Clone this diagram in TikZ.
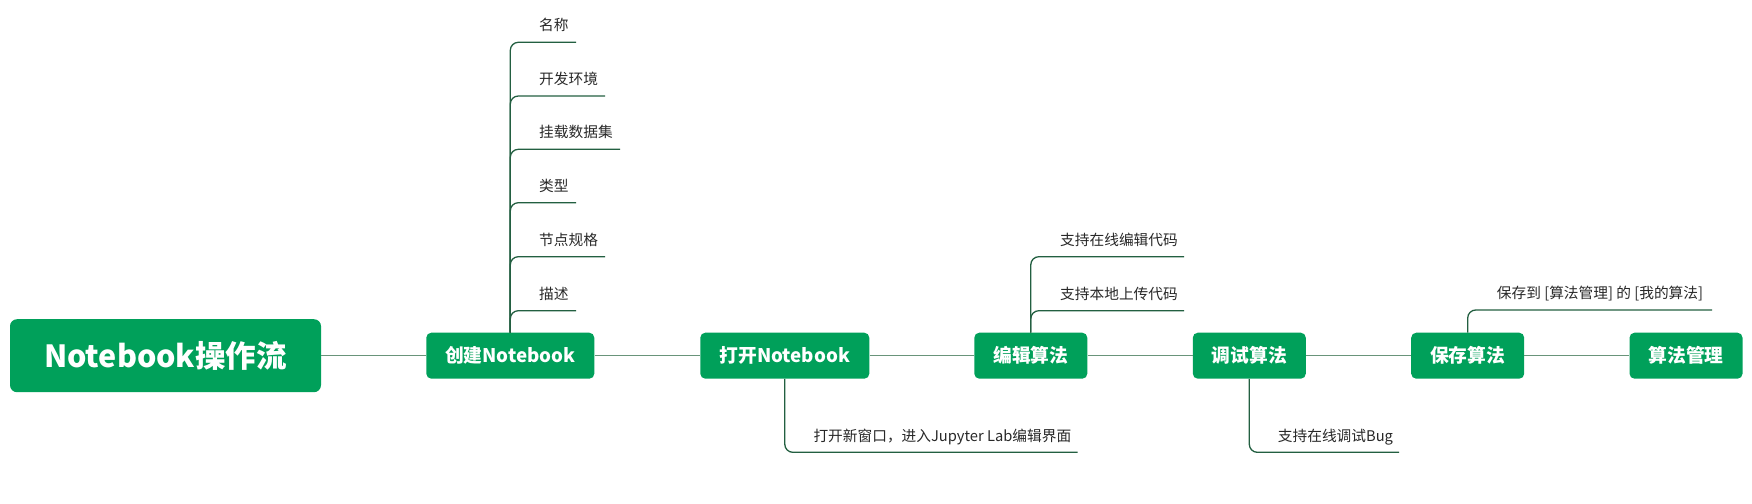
\documentclass[tikz,border=0pt]{standalone}
\usepackage{fontspec}
\setmainfont{Noto Sans CJK SC}
\definecolor{boxgreen}{RGB}{0,160,90}
\definecolor{maingray}{RGB}{105,148,122}
\definecolor{branchgreen}{RGB}{35,95,65}
\definecolor{lbltext}{RGB}{40,40,40}
\begin{document}
\begin{tikzpicture}[x=1pt,y=-1pt,
  box/.style={fill=boxgreen, rounded corners=5pt, text=white, font=\fontsize{18.75}{22}\selectfont\bfseries, minimum height=46pt, minimum width=113pt, inner sep=0pt},
  rootbox/.style={fill=boxgreen, rounded corners=7pt, text=white, font=\fontsize{30.5}{34}\selectfont\bfseries, minimum height=73pt, minimum width=311pt, inner sep=0pt},
  mainline/.style={draw=maingray, line width=1.3pt},
  branch/.style={draw=branchgreen, line width=1.3pt, rounded corners=8pt},
  lbl/.style={anchor=base west, inner sep=0pt, font=\fontsize{14.7}{17}\selectfont, text=lbltext}]
\useasboundingbox (0,0) rectangle (1752,503);
% main nodes
\node[rootbox] (root) at (165.5,355.7) {Notebook操作流};
\node[box, minimum width=168pt] (c1) at (510.3,355.7) {创建Notebook};
\node[box, minimum width=169pt] (c2) at (784.8,355.7) {打开Notebook};
\node[box] (c3) at (1030.8,355.7) {编辑算法};
\node[box] (c4) at (1249.3,355.7) {调试算法};
\node[box] (c5) at (1467.7,355.7) {保存算法};
\node[box] (c6) at (1686,355.7) {算法管理};
\draw[mainline] (root.east) -- (c1.west);
\draw[mainline] (c1.east) -- (c2.west);
\draw[mainline] (c2.east) -- (c3.west);
\draw[mainline] (c3.east) -- (c4.west);
\draw[mainline] (c4.east) -- (c5.west);
\draw[mainline] (c5.east) -- (c6.west);
% children of c1
\node[lbl] (a1) at (539,30.8) {名称};
\node[lbl] (a2) at (539,84.5) {开发环境};
\node[lbl] (a3) at (539,137.8) {挂载数据集};
\node[lbl] (a4) at (539,191.2) {类型};
\node[lbl] (a5) at (539,245.2) {节点规格};
\node[lbl] (a6) at (539,299.2) {描述};
\coordinate (e1) at (576,42.3);
\coordinate (e2) at (605,96);
\coordinate (e3) at (620,149.3);
\coordinate (e4) at (576,202.7);
\coordinate (e5) at (605,256.7);
\coordinate (e6) at (576,310.7);
\foreach \i in {1,...,6} {\draw[branch] (c1.north) |- (e\i);}
% child of c2
\node[lbl] (b1) at (813.3,441.3) {打开新窗口，进入Jupyter Lab编辑界面};
\coordinate (f1) at (1077.7,452.3);
\draw[branch] (c2.south) |- (f1);
% children of c3
\node[lbl] (d1) at (1060,245.2) {支持在线编辑代码};
\node[lbl] (d2) at (1060,299.2) {支持本地上传代码};
\coordinate (g1) at (1184,256.7);
\coordinate (g2) at (1184,310.7);
\draw[branch] (c3.north) |- (g1);
\draw[branch] (c3.north) |- (g2);
% child of c4
\node[lbl] (h1) at (1277.7,441.3) {支持在线调试Bug};
\coordinate (k1) at (1399,452.3);
\draw[branch] (c4.south) |- (k1);
% child of c5
\node[lbl] (m1) at (1496.7,298.8) {保存到 [算法管理] 的 [我的算法]};
\coordinate (n1) at (1712,310);
\draw[branch] (c5.north) |- (n1);
\end{tikzpicture}
\end{document}
